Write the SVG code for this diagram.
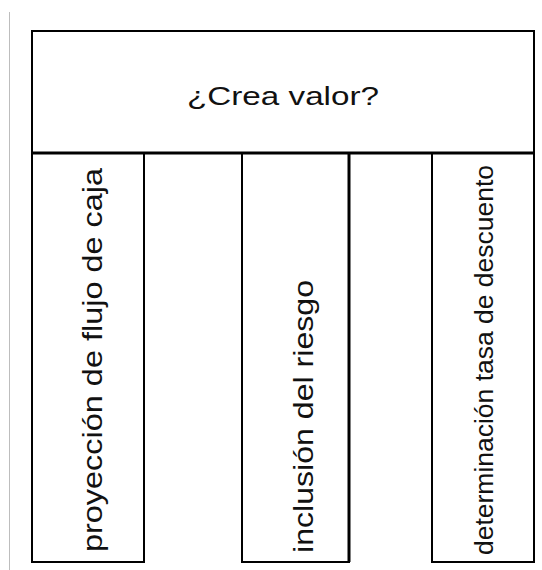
<svg xmlns="http://www.w3.org/2000/svg" width="542" height="570" viewBox="0 0 542 570">
<style>
.box{fill:#fff;stroke:#000;stroke-width:2}
.thick{stroke:#000;stroke-width:3;fill:none}
.lbl{font-family:"Liberation Sans",Arial,sans-serif;fill:#111}
</style>
<rect width="542" height="570" fill="#fff"/>
<line x1="9.5" y1="12" x2="9.5" y2="570" stroke="#bdbdbd" stroke-width="1"/>
<g id="top">
<rect class="box" x="32" y="31" width="502" height="122"/>
<text class="lbl" x="283" y="105" font-size="26" text-anchor="middle" textLength="192" lengthAdjust="spacingAndGlyphs">¿Crea valor?</text>
</g>
<g id="col1">
<rect class="box" x="32" y="153" width="112" height="409"/>
<text class="lbl" font-size="27" transform="translate(102,552) rotate(-90)" textLength="384" lengthAdjust="spacingAndGlyphs">proyección de flujo de caja</text>
</g>
<g id="col2">
<rect class="box" x="242" y="153" width="107" height="409"/>
<line class="thick" x1="349" y1="153" x2="349" y2="562"/>
<text class="lbl" font-size="27" transform="translate(313,553) rotate(-90)" textLength="273" lengthAdjust="spacingAndGlyphs">inclusión del riesgo</text>
</g>
<g id="col3">
<rect class="box" x="432" y="153" width="102" height="409"/>
<text class="lbl" font-size="26" transform="translate(493,555) rotate(-90)" textLength="390" lengthAdjust="spacingAndGlyphs">determinación tasa de descuento</text>
</g>
<line class="thick" x1="31" y1="153" x2="535" y2="153"/>
<g id="connectors"/>
</svg>
